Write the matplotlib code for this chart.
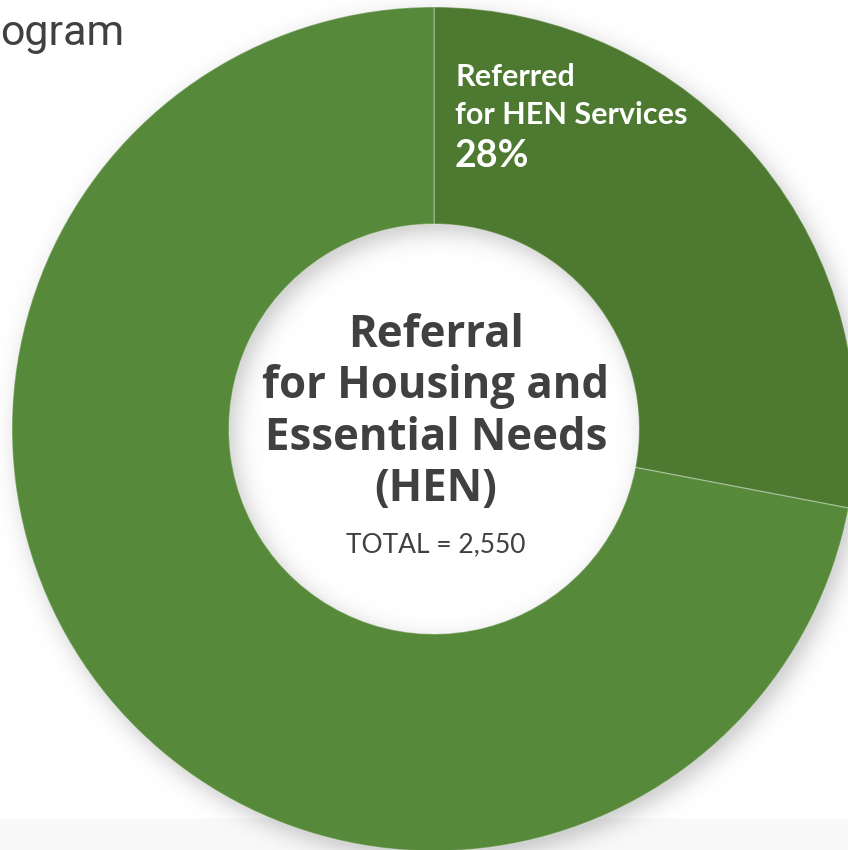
import numpy as np
import matplotlib.pyplot as plt
from matplotlib.patches import Rectangle

# data
labels = ["Referred for HEN Services", "Not referred"]
shares = [28, 72]
colors = ["#4d7a30", "#56893a"]
total = 2550
title_lines = ["Referral", "for Housing and", "Essential Needs", "(HEN)"]

W, H = 848, 850
fig = plt.figure(figsize=(W / 100, H / 100), dpi=100)
ax = fig.add_axes([0, 0, 1, 1])

cx, cy = 434, H - 429
R, r_in = 422, 205

# light band at the bottom
ax.add_patch(Rectangle((0, 0), W, 31, color="#f9f9f9", zorder=0))

# soft drop shadow of the ring, offset to the lower right
xx, yy = np.meshgrid(np.arange(W) + 0.5, np.arange(H) + 0.5)
d = np.hypot(xx - (cx + 6), yy - (cy - 8))
s = 7.0
ring = 1 / (1 + np.exp(-(R - d) / s)) * 1 / (1 + np.exp(-(d - r_in) / s))
shadow = np.zeros((H, W, 4))
shadow[..., 3] = 0.22 * ring
ax.imshow(shadow, extent=(0, W, 0, H), origin="lower", zorder=1, interpolation="bilinear")

ax.pie(shares, colors=colors, startangle=90, counterclock=False,
       center=(cx, cy), radius=R, frame=True,
       wedgeprops=dict(width=R - r_in, edgecolor=(1, 1, 1, 0.3), linewidth=1))
ax.set_xlim(0, W)
ax.set_ylim(0, H)
ax.set_aspect("equal")
ax.axis("off")

# label inside the dark wedge
ax.text(455, H - 77, "Referred", color="white", fontsize=22, fontweight="bold",
        family="Lato", ha="left", va="center", zorder=5)
ax.text(455, H - 115, "for HEN Services", color="white", fontsize=22, fontweight="bold",
        family="Lato", ha="left", va="center", zorder=5)
ax.text(455, H - 156, f"{shares[0]}%", color="white", fontsize=27, fontweight="bold",
        family="Lato", ha="left", va="center", zorder=5)

# centre title
for i, line in enumerate(title_lines):
    ax.text(436, H - (335 + 51.5 * i), line, color="#404040", fontsize=31.5,
            fontweight="bold", family="Open Sans", ha="center", va="center", zorder=5)
ax.text(436, H - 545, f"TOTAL = {total:,}", color="#404040", fontsize=19,
        family="Lato", ha="center", va="center", zorder=5)

# heading, cut off by the crop at top left
ax.text(0, H - 33, "ogram", color="#404040", fontsize=31,
        family="Roboto", ha="left", va="center", zorder=5)

fig.savefig("out.png", dpi=100)
